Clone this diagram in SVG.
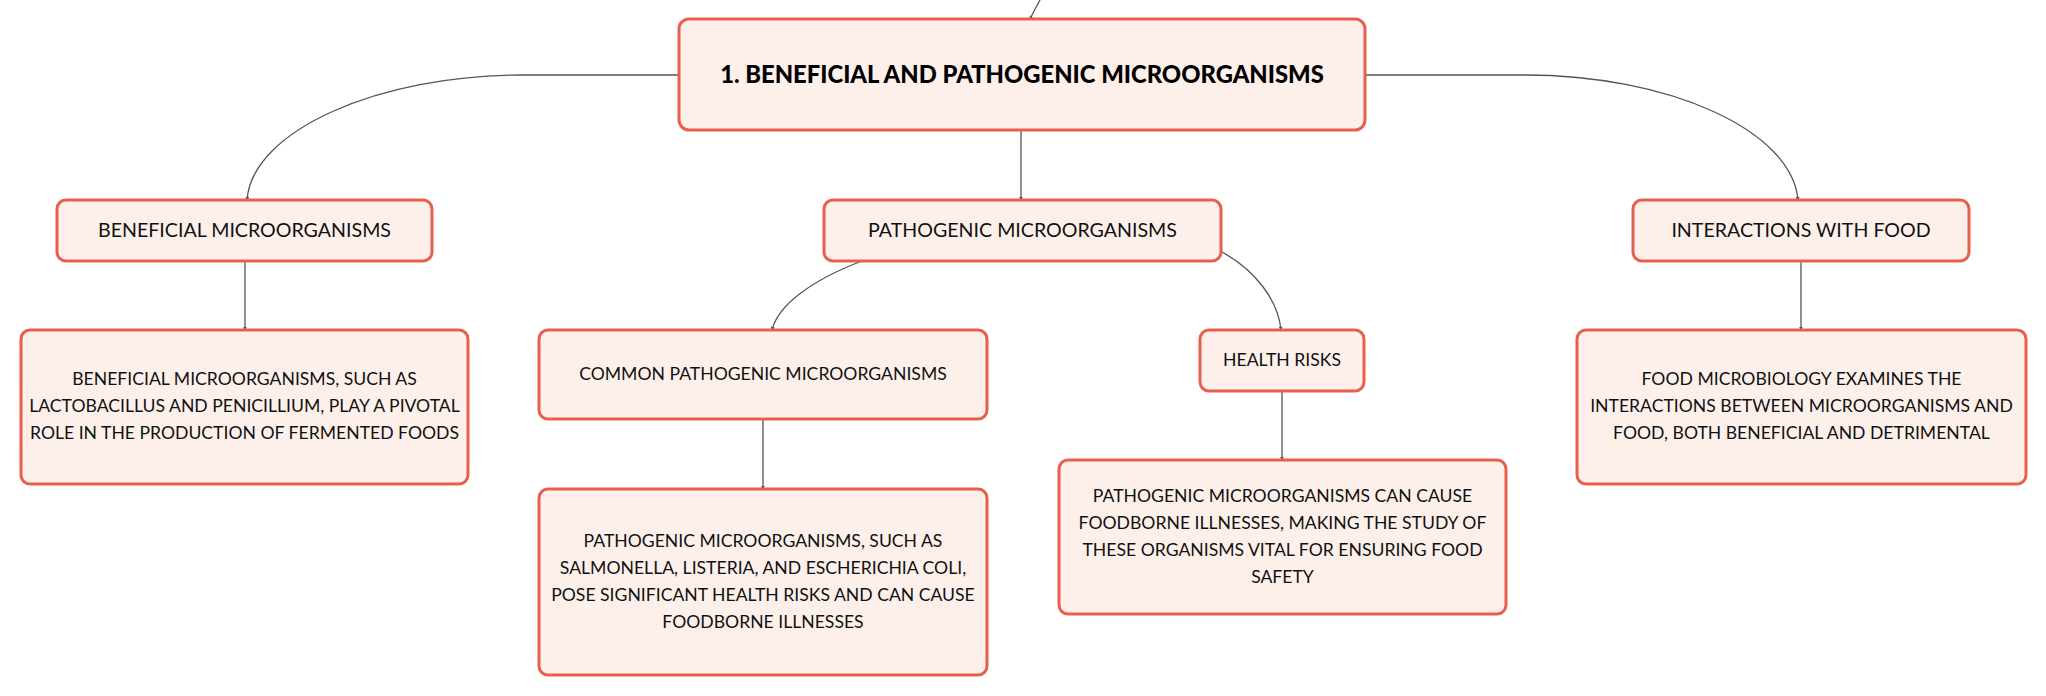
<svg xmlns="http://www.w3.org/2000/svg" width="2046" height="696" viewBox="0 0 2046 696">
<style>
.box{fill:#fdf0eb;stroke:#e8604d;stroke-width:3}
.t{font-family:Lato,"Noto Sans","Liberation Sans",sans-serif;font-size:19.6px;fill:#111;text-anchor:middle}
.s{font-family:Lato,"Noto Sans","Liberation Sans",sans-serif;font-size:17.6px;fill:#111;text-anchor:middle}
.tb{font-family:Lato,"Noto Sans","Liberation Sans",sans-serif;font-size:23.8px;font-weight:900;fill:#000;text-anchor:middle}
.c{fill:none;stroke:#555;stroke-width:1.3;marker-end:url(#a)}
</style>
<defs>
<marker id="a" viewBox="0 0 6 6" refX="5" refY="3" markerWidth="4" markerHeight="4" orient="auto" markerUnits="userSpaceOnUse">
<path d="M0 0L6 3L0 6z" fill="#555"/>
</marker>
</defs>
<rect width="2046" height="696" fill="#fff"/>
<g id="connectors">
<path class="c" d="M1040 0Q1035 9 1030 19"/>
<path class="c" d="M679 75H522C380 75 252 130 247 200"/>
<path class="c" d="M1365 75H1525C1668 75 1792 130 1798 200"/>
<path class="c" d="M1021 130V200"/>
<path class="c" d="M245 261V330"/>
<path class="c" d="M862 261C812 280 778 305 772 330"/>
<path class="c" d="M1222 252C1255 270 1278 300 1281 330"/>
<path class="c" d="M763 419V489"/>
<path class="c" d="M1282 391V460"/>
<path class="c" d="M1801 261V330"/>
</g>
<g id="root">
<rect class="box" x="679" y="19" width="686" height="111" rx="10"/>
<text class="tb" x="1022" y="83">1. BENEFICIAL AND PATHOGENIC MICROORGANISMS</text>
</g>
<g id="beneficial">
<rect class="box" x="57" y="200" width="375" height="61" rx="9"/>
<text class="t" x="244.5" y="237">BENEFICIAL MICROORGANISMS</text>
</g>
<g id="pathogenic">
<rect class="box" x="824" y="200" width="397" height="61" rx="9"/>
<text class="t" x="1022.5" y="237">PATHOGENIC MICROORGANISMS</text>
</g>
<g id="interactions">
<rect class="box" x="1633" y="200" width="336" height="61" rx="9"/>
<text class="t" x="1801" y="237">INTERACTIONS WITH FOOD</text>
</g>
<g id="beneficial-desc">
<rect class="box" x="21" y="330" width="447" height="154" rx="9"/>
<text class="s" x="244.5" y="385">BENEFICIAL MICROORGANISMS, SUCH AS</text>
<text class="s" x="244.5" y="412">LACTOBACILLUS AND PENICILLIUM, PLAY A PIVOTAL</text>
<text class="s" x="244.5" y="439">ROLE IN THE PRODUCTION OF FERMENTED FOODS</text>
</g>
<g id="common">
<rect class="box" x="539" y="330" width="448" height="89" rx="9"/>
<text class="s" x="763" y="380">COMMON PATHOGENIC MICROORGANISMS</text>
</g>
<g id="pathogenic-desc">
<rect class="box" x="539" y="489" width="448" height="186" rx="9"/>
<text class="s" x="763" y="547">PATHOGENIC MICROORGANISMS, SUCH AS</text>
<text class="s" x="763" y="574">SALMONELLA, LISTERIA, AND ESCHERICHIA COLI,</text>
<text class="s" x="763" y="601">POSE SIGNIFICANT HEALTH RISKS AND CAN CAUSE</text>
<text class="s" x="763" y="628">FOODBORNE ILLNESSES</text>
</g>
<g id="health-risks">
<rect class="box" x="1200" y="330" width="164" height="61" rx="9"/>
<text class="s" x="1282" y="366">HEALTH RISKS</text>
</g>
<g id="health-desc">
<rect class="box" x="1059" y="460" width="447" height="154" rx="9"/>
<text class="s" x="1282.5" y="502">PATHOGENIC MICROORGANISMS CAN CAUSE</text>
<text class="s" x="1282.5" y="529">FOODBORNE ILLNESSES, MAKING THE STUDY OF</text>
<text class="s" x="1282.5" y="556">THESE ORGANISMS VITAL FOR ENSURING FOOD</text>
<text class="s" x="1282.5" y="583">SAFETY</text>
</g>
<g id="interactions-desc">
<rect class="box" x="1577" y="330" width="449" height="154" rx="9"/>
<text class="s" x="1801.5" y="385">FOOD MICROBIOLOGY EXAMINES THE</text>
<text class="s" x="1801.5" y="412">INTERACTIONS BETWEEN MICROORGANISMS AND</text>
<text class="s" x="1801.5" y="439">FOOD, BOTH BENEFICIAL AND DETRIMENTAL</text>
</g>
</svg>
